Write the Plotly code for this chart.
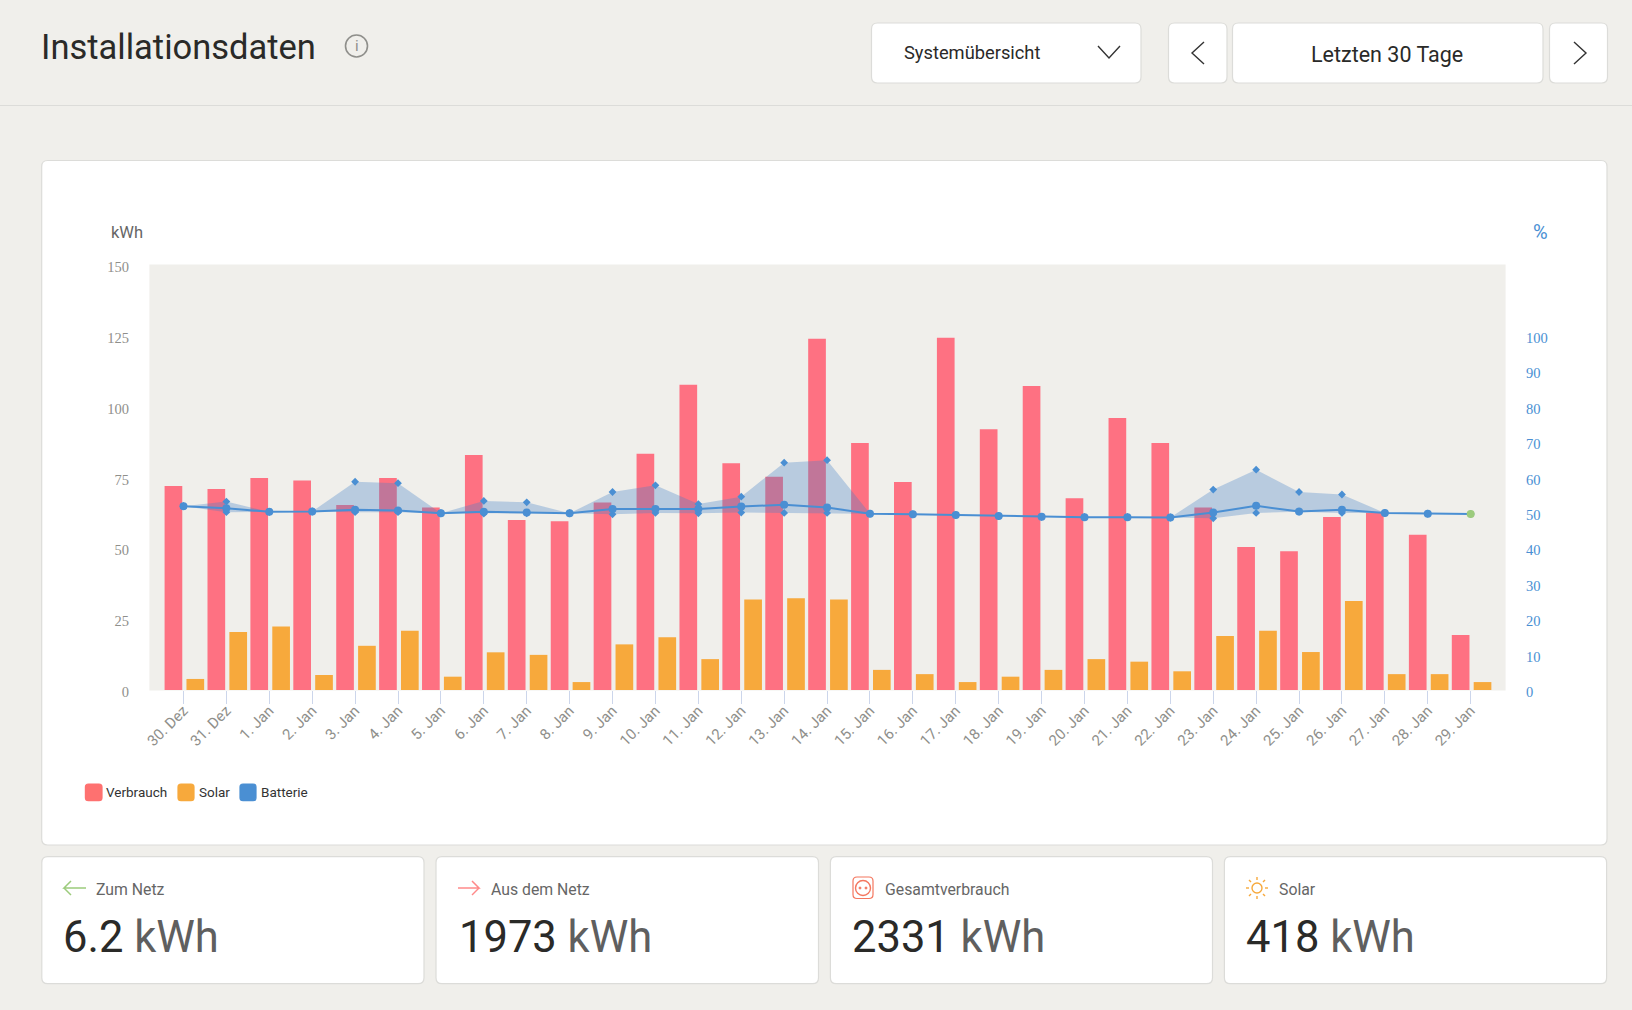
import plotly.graph_objects as go

W = 1632
H = 1010
BG = '#f0efeb'
BLUE = '#4a8fd3'
GREEN = '#9ccb7c'
RED = '#fe7182'
ORANGE = '#f7a93c'
FONT = 'Roboto'

days = ['30. Dez', '31. Dez', '1. Jan', '2. Jan', '3. Jan', '4. Jan', '5. Jan', '6. Jan',
        '7. Jan', '8. Jan', '9. Jan', '10. Jan', '11. Jan', '12. Jan', '13. Jan', '14. Jan',
        '15. Jan', '16. Jan', '17. Jan', '18. Jan', '19. Jan', '20. Jan', '21. Jan', '22. Jan',
        '23. Jan', '24. Jan', '25. Jan', '26. Jan', '27. Jan', '28. Jan', '29. Jan']
verbrauch = [72.0, 70.9, 74.8, 73.9, 65.3, 74.8, 64.4, 82.9, 60.0, 59.6, 66.2, 83.4, 107.7, 80.0, 75.3, 124.0,
             87.2, 73.4, 124.3, 92.0, 107.3, 67.7, 96.0, 87.2, 64.4, 50.5, 49.0, 61.1, 62.6, 54.8, 19.4]
solar = [3.9, 20.5, 22.4, 5.3, 15.6, 20.9, 4.7, 13.3, 12.4, 2.8, 16.1, 18.6, 10.9, 31.9, 32.4, 31.9,
         7.1, 5.6, 2.8, 4.7, 7.1, 10.9, 10.0, 6.6, 19.1, 20.9, 13.4, 31.4, 5.6, 5.6, 2.8]
batterie = [51.9, 51.3, 50.3, 50.4, 50.9, 50.7, 49.9, 50.3, 50.1, 49.9, 51.1, 51.1, 51.1, 51.8, 52.3, 51.5,
            49.8, 49.6, 49.4, 49.1, 48.9, 48.8, 48.8, 48.7, 50.1, 52.0, 50.4, 50.9, 50.0, 49.8, 49.7]
batterie_max = [51.9, 53.2, 50.3, 50.4, 58.8, 58.4, 49.9, 53.4, 53.0, 49.9, 55.9, 57.8, 52.5, 54.6, 64.2, 64.9,
                49.8, 49.6, 49.4, 49.1, 48.9, 48.8, 48.8, 48.7, 56.6, 62.2, 55.9, 55.2, 50.0, 49.8, 49.7]
batterie_min = [51.9, 50.2, 50.3, 50.4, 50.2, 50.2, 49.9, 49.8, 49.9, 49.9, 49.6, 50.0, 49.9, 50.1, 50.0, 50.0,
                49.8, 49.6, 49.4, 49.1, 48.9, 48.8, 48.8, 48.7, 48.5, 50.0, 50.3, 50.0, 50.0, 49.8, 49.7]
kwh_ticks = [0, 25, 50, 75, 100, 125, 150]
percent_ticks = [0, 10, 20, 30, 40, 50, 60, 70, 80, 90, 100]
card_titles = ['Zum Netz', 'Aus dem Netz', 'Gesamtverbrauch', 'Solar']
card_numbers = ['6.2', '1973', '2331', '418']


def px_x(x):
    return x / W


def px_y(y):
    return 1 - y / H


def box(x0, y0, x1, y1, fill='white', line='#dcdcd9', r=6):
    # rounded rectangle, given in page pixels
    a, b, c, d = px_x(x0), px_y(y0), px_x(x1), px_y(y1)
    rx, ry = r / W, r / H
    path = (f'M {a + rx} {b} L {c - rx} {b} Q {c} {b} {c} {b - ry} L {c} {d + ry} Q {c} {d} {c - rx} {d} '
            f'L {a + rx} {d} Q {a} {d} {a} {d + ry} L {a} {b - ry} Q {a} {b} {a + rx} {b} Z')
    return dict(type='path', path=path, xref='paper', yref='paper', fillcolor=fill,
                line=dict(color=line, width=1.2), layer='below')


def stroke(points, color, width=1.4):
    # open line through page pixels
    path = 'M ' + ' L '.join(f'{px_x(x)} {px_y(y)}' for x, y in points)
    return dict(type='path', path=path, xref='paper', yref='paper', line=dict(color=color, width=width))


def ring(cx, cy, r, color, fill=None, width=1.4):
    return dict(type='circle', xref='paper', yref='paper', x0=px_x(cx - r), x1=px_x(cx + r),
                y0=px_y(cy - r), y1=px_y(cy + r), line=dict(color=color, width=width),
                fillcolor=fill if fill else 'rgba(0,0,0,0)')


def label(x, y, text, size, color, anchor='left', family=FONT):
    return dict(text=text, x=px_x(x), y=px_y(y), xref='paper', yref='paper', xanchor=anchor, yanchor='middle',
                showarrow=False, font=dict(size=size, color=color, family=family))


def page_shapes():
    shapes = [
        stroke([(0, 105.5), (W, 105.5)], '#dcdcd9', 1.2),
        box(871.5, 23, 1141, 83),
        box(1168.5, 23, 1227, 83),
        box(1232.5, 23, 1543, 83),
        box(1549.5, 23, 1607.5, 83),
        box(41.7, 160.5, 1607, 845),
        box(41.8, 856.7, 424, 983.7),
        box(436, 856.7, 818.5, 983.7),
        box(830.4, 856.7, 1212.5, 983.7),
        box(1224.4, 856.7, 1606.6, 983.7),
        box(150, 265, 1505, 690, fill=BG, line=BG, r=0),  # grey plot band
        ring(356.5, 46, 11, '#8f8f8b', width=1.6),
        stroke([(1098, 46), (1109, 58), (1120, 46)], '#333333'),
        stroke([(1204, 42), (1192, 53), (1204, 64)], '#333333'),
        stroke([(1574, 42), (1586, 53), (1574, 64)], '#333333'),
        box(85.4, 784, 102, 800.7, fill='#fe7170', line='#fe7170', r=3),  # legend
        box(178, 784, 194, 800.7, fill=ORANGE, line=ORANGE, r=3),
        box(240, 784, 256, 800.7, fill=BLUE, line=BLUE, r=3),
        stroke([(86, 888), (64, 888), (71, 881)], GREEN, 1.5),  # card icons
        stroke([(64, 888), (71, 895)], GREEN, 1.5),
        stroke([(458, 888), (479, 888), (472, 881)], '#ff8a8a', 1.5),
        stroke([(479, 888), (472, 895)], '#ff8a8a', 1.5),
        box(853, 877, 873, 898.5, fill='rgba(0,0,0,0)', line='#f4775f', r=4),
        ring(863, 888, 7.5, '#f4775f'),
        ring(860, 888, 1, '#f4775f', '#f4775f', 1),
        ring(866, 888, 1, '#f4775f', '#f4775f', 1),
        ring(1257, 888, 5, ORANGE),
    ]
    for dx, dy in [(0, -1), (0, 1), (1, 0), (-1, 0)]:
        shapes.append(stroke([(1257 + dx * 8, 888 + dy * 8), (1257 + dx * 11, 888 + dy * 11)], ORANGE))
    for dx, dy in [(1, 1), (1, -1), (-1, 1), (-1, -1)]:
        shapes.append(stroke([(1257 + dx * 6, 888 + dy * 6), (1257 + dx * 8, 888 + dy * 8)], ORANGE))
    return shapes


def page_labels():
    labels = [
        label(39, 47, 'Installationsdaten', 34.5, '#2a2a28'),
        label(356.5, 46, 'i', 15, '#8f8f8b', 'center'),
        label(902, 52, 'Systemübersicht', 18.3, '#2a2a28'),
        label(1387, 54, 'Letzten 30 Tage', 21.5, '#2a2a28', 'center'),
        label(109, 232.5, 'kWh', 16.5, '#666666'),
        label(1531, 232.5, '%', 20, BLUE),
        label(104, 792, 'Verbrauch', 13.5, '#333333'),
        label(196.5, 792, 'Solar', 13.5, '#333333'),
        label(259, 792, 'Batterie', 13.5, '#333333'),
    ]
    for x, title in zip([94.4, 488.6, 882.7, 1276.8], card_titles):
        labels.append(label(x, 889, title, 15.8, '#666666'))
    for x, number in zip([61, 457, 850, 1244], card_numbers):
        labels.append(label(x, 937, f"{number} <span style='color:#5f5f5f'>kWh</span>", 43.5, '#2a2a28'))
    return labels


fig = go.Figure()

# Bars sit on the left axis
fig.add_trace(go.Bar(x=days, y=verbrauch, name='Verbrauch', width=0.412, offset=-0.44,
                     marker=dict(color=RED, line=dict(width=0))))
fig.add_trace(go.Bar(x=days, y=solar, name='Solar', width=0.412, offset=0.07,
                     marker=dict(color=ORANGE, line=dict(width=0))))

# Battery band and mean on the right axis
fig.add_trace(go.Scatter(x=days, y=batterie_min, yaxis='y2', mode='lines+markers',
                         line=dict(width=0, color=BLUE), marker=dict(symbol='diamond', size=6, color=BLUE)))
fig.add_trace(go.Scatter(x=days, y=batterie_max, yaxis='y2', mode='lines+markers', fill='tonexty',
                         fillcolor='rgba(70,130,200,0.33)',
                         line=dict(width=0, color=BLUE), marker=dict(symbol='diamond', size=6, color=BLUE)))
fig.add_trace(go.Scatter(x=days, y=batterie, yaxis='y2', name='Batterie', mode='lines+markers',
                         line=dict(width=2, color=BLUE),
                         marker=dict(size=8, color=[BLUE] * (len(days) - 1) + [GREEN])))

fig.update_layout(
    width=W, height=H, margin=dict(l=0, r=0, t=0, b=0, pad=0, autoexpand=False), autosize=False,
    paper_bgcolor=BG, plot_bgcolor='rgba(0,0,0,0)', showlegend=False, barmode='overlay',
    shapes=page_shapes(), annotations=page_labels(),
    xaxis=dict(domain=[150 / W, 1505 / W], range=[-0.78, 30.80], type='category', tickmode='array',
               tickvals=days, ticktext=days, tickangle=-45, ticks='outside', ticklen=13, tickcolor='#ccd6eb',
               tickwidth=1, showgrid=False, zeroline=False, showline=False, ticklabelstandoff=-8,
               tickfont=dict(family=FONT, size=15, color='#8f8f8b')),
    yaxis=dict(domain=[1 - 690 / H, 1 - 265 / H], range=[0, 150], tickvals=kwh_ticks, showgrid=False,
               zeroline=False, showline=False, ticks='', ticklabelstandoff=20, ticklabelshift=2,
               tickfont=dict(family='Liberation Serif', size=14.5, color='#8f8f8b')),
    yaxis2=dict(domain=[1 - 690 / H, 1 - 265 / H], range=[0, 120], tickvals=percent_ticks, overlaying='y',
                side='right', anchor='x', showgrid=False, zeroline=False, showline=False, ticks='',
                ticklabelstandoff=20, ticklabelshift=2,
                tickfont=dict(family='Liberation Serif', size=14.5, color=BLUE)),
)

fig.write_html('out.html', default_width=f'{W}px', default_height=f'{H}px',
               config=dict(displayModeBar=False, responsive=False),
               post_script="document.documentElement.style.margin='0';document.body.style.margin='0';document.body.style.overflow='hidden';")
